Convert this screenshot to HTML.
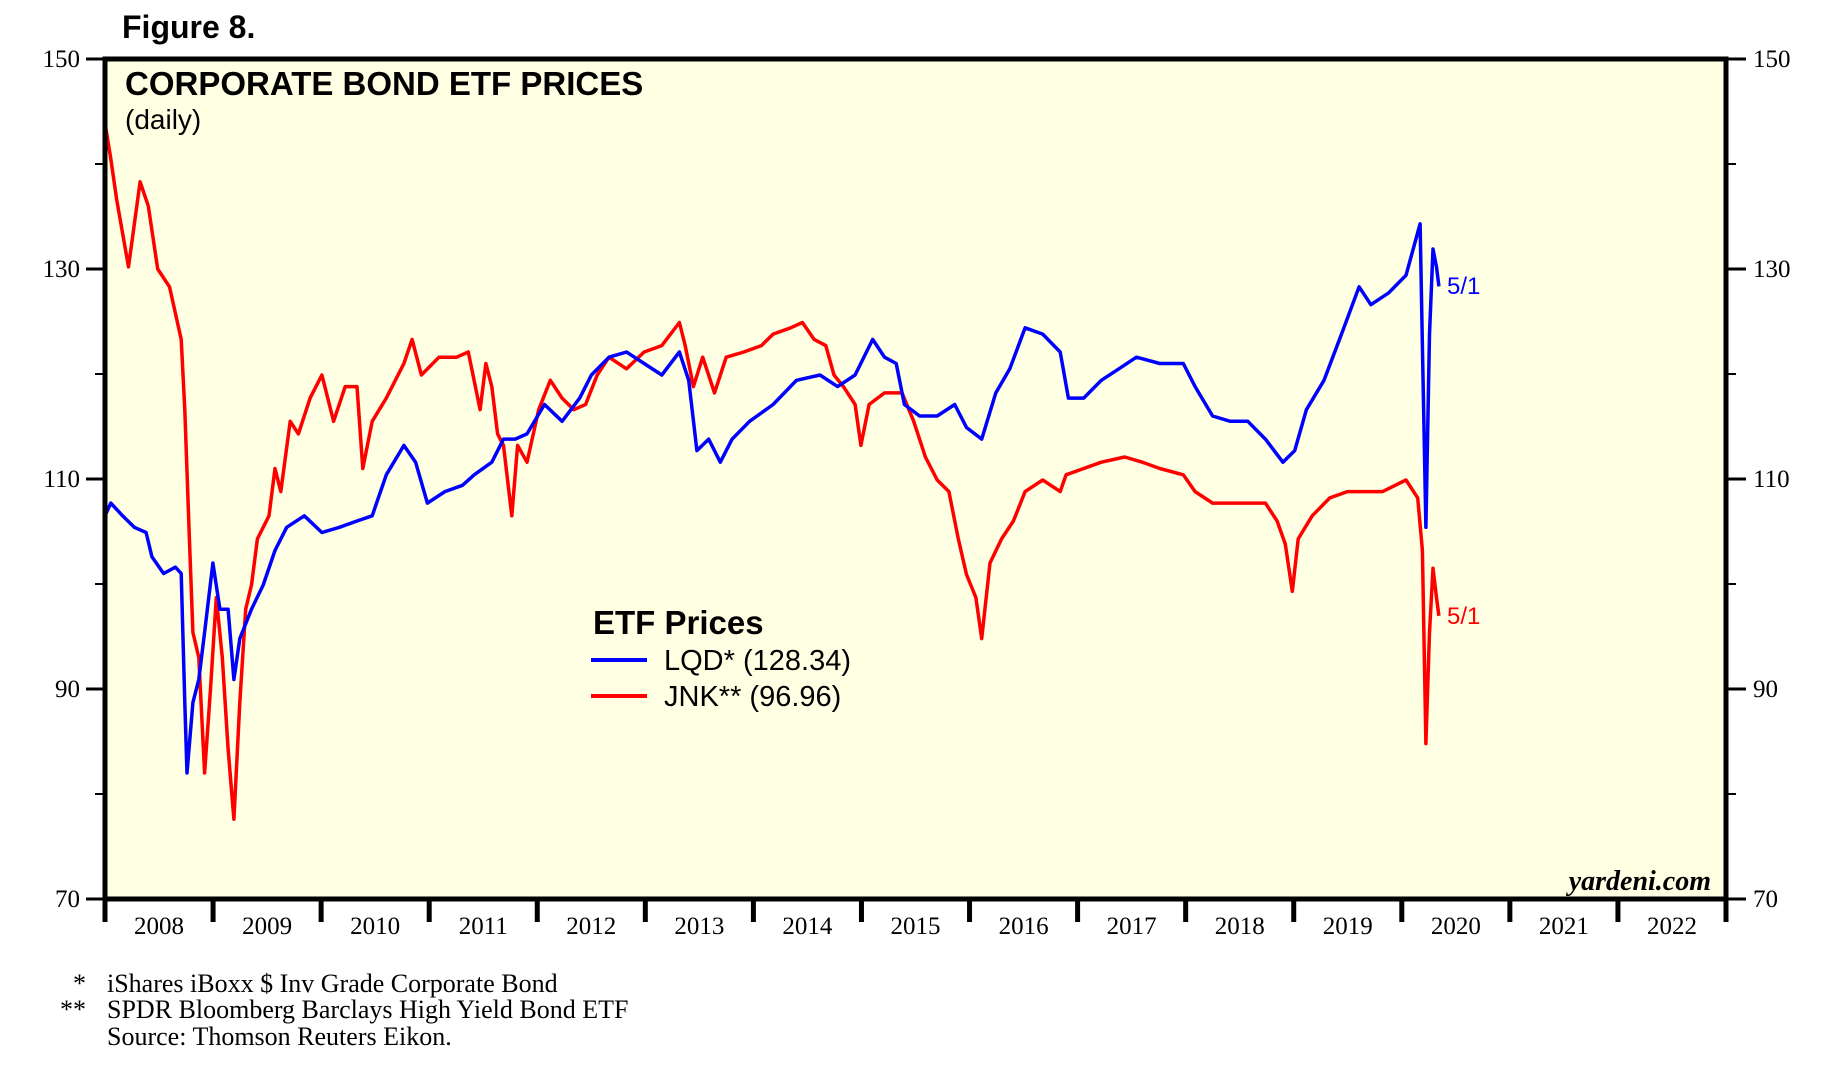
<!DOCTYPE html>
<html><head><meta charset="utf-8"><style>
body{margin:0;background:#fff;}
svg{display:block;}
.serif{font-family:"Liberation Serif",serif;}
.sans{font-family:"Liberation Sans",sans-serif;}
</style></head><body>
<svg id="chart" width="1837" height="1087" viewBox="0 0 1837 1087">
<text x="122" y="38" class="sans" font-size="32" font-weight="bold">Figure 8.</text>
<rect x="105" y="59" width="1621" height="840" fill="#FFFFE3"/>
<text x="125" y="95" class="sans" font-size="33" font-weight="bold">CORPORATE BOND ETF PRICES</text>
<text x="125" y="129" class="sans" font-size="28">(daily)</text>
<g id="axes"></g>
<g id="series"></g>
<rect x="105" y="59" width="1621" height="840" fill="none" stroke="#000" stroke-width="5"/>
<text x="1711" y="890" class="serif" font-size="28" font-weight="bold" font-style="italic" text-anchor="end">yardeni.com</text>
<g>
<text x="593" y="634" class="sans" font-size="33" font-weight="bold">ETF Prices</text>
<line x1="591" y1="660" x2="647" y2="660" stroke="#0000ff" stroke-width="4"/>
<text x="664" y="670" class="sans" font-size="29">LQD* (128.34)</text>
<line x1="591" y1="696" x2="647" y2="696" stroke="#ff0000" stroke-width="4"/>
<text x="664" y="706" class="sans" font-size="29">JNK** (96.96)</text>
</g>
<text x="1447" y="294" class="sans" font-size="24" fill="#0000ff">5/1</text>
<text x="1447" y="624" class="sans" font-size="24" fill="#ff0000">5/1</text>
<g class="serif" font-size="26">
<text x="86" y="992" text-anchor="end">*</text>
<text x="107" y="992">iShares iBoxx $ Inv Grade Corporate Bond</text>
<text x="86" y="1018" text-anchor="end">**</text>
<text x="107" y="1018">SPDR Bloomberg Barclays High Yield Bond ETF</text>
<text x="107" y="1045">Source: Thomson Reuters Eikon.</text>
</g>
</svg>
<script>
const yTicks = [70, 90, 110, 130, 150];
const yMinorTicks = [80, 100, 120, 140];
const years = [2008,2009,2010,2011,2012,2013,2014,2015,2016,2017,2018,2019,2020,2021,2022];
const jnkDates = [2008.00,2008.054,2008.108,2008.217,2008.325,2008.401,2008.488,2008.597,2008.705,2008.738,2008.781,2008.813,2008.868,2008.922,2008.976,2009.030,2009.085,2009.139,2009.193,2009.247,2009.302,2009.356,2009.410,2009.518,2009.573,2009.627,2009.714,2009.790,2009.898,2010.007,2010.115,2010.223,2010.332,2010.386,2010.473,2010.603,2010.766,2010.842,2010.928,2011.091,2011.254,2011.362,2011.471,2011.525,2011.579,2011.633,2011.688,2011.764,2011.818,2011.905,2012.013,2012.121,2012.230,2012.338,2012.447,2012.555,2012.664,2012.826,2012.989,2013.152,2013.315,2013.369,2013.445,2013.531,2013.640,2013.748,2013.911,2014.074,2014.182,2014.345,2014.453,2014.562,2014.670,2014.746,2014.833,2014.941,2014.995,2015.071,2015.213,2015.375,2015.483,2015.592,2015.701,2015.809,2015.896,2015.972,2016.059,2016.113,2016.189,2016.297,2016.406,2016.514,2016.677,2016.839,2016.894,2017.056,2017.219,2017.436,2017.599,2017.761,2017.978,2018.087,2018.249,2018.412,2018.575,2018.738,2018.846,2018.922,2018.987,2019.041,2019.171,2019.334,2019.497,2019.659,2019.822,2020.039,2020.147,2020.191,2020.223,2020.256,2020.289,2020.321,2020.343];
const jnkValues = [143.9,140.5,136.6,130.2,138.3,136.0,130.0,128.3,123.3,116.6,104.3,95.4,93.0,82.0,90.0,98.7,93.0,84.3,77.6,88.7,97.6,99.9,104.3,106.5,111.0,108.8,115.5,114.3,117.7,119.9,115.5,118.8,118.8,111.0,115.5,117.7,121.0,123.3,119.9,121.6,121.6,122.1,116.6,121.0,118.8,114.3,113.2,106.5,113.2,111.6,116.6,119.4,117.7,116.6,117.1,119.9,121.6,120.5,122.1,122.7,124.9,122.7,118.8,121.6,118.2,121.6,122.1,122.7,123.8,124.4,124.9,123.3,122.7,119.9,118.8,117.1,113.2,117.1,118.2,118.2,115.5,112.1,109.9,108.8,104.3,100.9,98.7,94.8,102.0,104.3,106.0,108.8,109.9,108.8,110.4,111.0,111.6,112.1,111.6,111.0,110.4,108.8,107.7,107.7,107.7,107.7,106.0,103.8,99.3,104.3,106.5,108.2,108.8,108.8,108.8,109.9,108.2,103.2,84.8,95.4,101.5,98.7,96.96];
const lqdDates = [2008.00,2008.054,2008.163,2008.271,2008.380,2008.434,2008.542,2008.651,2008.705,2008.738,2008.759,2008.813,2008.868,2008.922,2008.998,2009.063,2009.139,2009.193,2009.247,2009.356,2009.464,2009.573,2009.681,2009.844,2010.007,2010.169,2010.332,2010.473,2010.603,2010.766,2010.874,2010.983,2011.145,2011.308,2011.416,2011.579,2011.688,2011.796,2011.905,2012.067,2012.230,2012.393,2012.501,2012.664,2012.826,2012.989,2013.152,2013.315,2013.401,2013.477,2013.586,2013.694,2013.803,2013.965,2014.182,2014.399,2014.616,2014.779,2014.941,2015.104,2015.213,2015.321,2015.397,2015.538,2015.701,2015.863,2015.972,2016.113,2016.243,2016.373,2016.514,2016.677,2016.839,2016.915,2017.056,2017.219,2017.382,2017.544,2017.761,2017.978,2018.087,2018.249,2018.412,2018.575,2018.738,2018.900,2019.009,2019.117,2019.280,2019.442,2019.605,2019.714,2019.876,2020.039,2020.169,2020.191,2020.223,2020.256,2020.289,2020.321,2020.343];
const lqdValues = [106.5,107.7,106.5,105.4,104.9,102.6,101.0,101.6,101.0,88.7,82.0,88.7,90.9,95.4,102.0,97.6,97.6,90.9,94.8,97.6,99.9,103.2,105.4,106.5,104.9,105.4,106.0,106.5,110.4,113.2,111.6,107.7,108.8,109.4,110.4,111.6,113.8,113.8,114.3,117.1,115.5,117.7,119.9,121.6,122.1,121.0,119.9,122.1,119.4,112.7,113.8,111.6,113.8,115.5,117.1,119.4,119.9,118.8,119.9,123.3,121.6,121.0,117.1,116.0,116.0,117.1,114.9,113.8,118.2,120.5,124.4,123.8,122.1,117.7,117.7,119.4,120.5,121.6,121.0,121.0,118.8,116.0,115.5,115.5,113.8,111.6,112.7,116.6,119.4,123.8,128.3,126.6,127.7,129.4,134.3,122.7,105.4,123.8,131.9,130.2,128.34];

const NS='http://www.w3.org/2000/svg';
const X0=105, X1=1726, Y0=899, Y1=59, T0=2008, T1=2023, V0=70, V1=150;
function xScale(t){return X0+(t-T0)/(T1-T0)*(X1-X0);}
function yScale(v){return Y0-(v-V0)/(V1-V0)*(Y0-Y1);}
function mk(tag,attrs){const e=document.createElementNS(NS,tag);for(const k in attrs)e.setAttribute(k,attrs[k]);return e;}
const axes=document.getElementById('axes');
yTicks.forEach(v=>{
  const y=yScale(v);
  const l=mk('line',{x1:86,y1:y,x2:X0,y2:y,stroke:'#000','stroke-width':3});
  
  
  axes.appendChild(l);
  const r=mk('line',{x1:X1,y1:y,x2:1746,y2:y,stroke:'#000','stroke-width':3});
  
  
  axes.appendChild(r);
  const tl=mk('text',{x:80,y:y+8,'text-anchor':'end','font-size':25,'font-family':'Liberation Serif, serif'});
  tl.textContent=v;
  
  
  axes.appendChild(tl);
  const tr=mk('text',{x:1753,y:y+8,'font-size':25,'font-family':'Liberation Serif, serif'});
  tr.textContent=v;
  
  
  axes.appendChild(tr);
});
yMinorTicks.forEach(v=>{
  const y=yScale(v);
  const l=mk('line',{x1:95,y1:y,x2:X0,y2:y,stroke:'#000','stroke-width':2});
  
  
  axes.appendChild(l);
  const r=mk('line',{x1:X1,y1:y,x2:1736,y2:y,stroke:'#000','stroke-width':2});
  
  
  axes.appendChild(r);
});
years.concat([2023]).forEach(yr=>{
  const x=xScale(yr);
  const t=mk('line',{x1:x,y1:Y0,x2:x,y2:922,stroke:'#000','stroke-width':5});
  
  
  axes.appendChild(t);
});
years.forEach(yr=>{
  const tx=mk('text',{x:xScale(yr+0.5),y:934,'text-anchor':'middle','font-size':25,'font-family':'Liberation Serif, serif'});
  tx.textContent=yr;
  
  
  axes.appendChild(tx);
});
const series=document.getElementById('series');
function line(dates,vals,color,name){
  const pts=dates.map((d,i)=>xScale(d).toFixed(1)+','+yScale(vals[i]).toFixed(1)).join(' ');
  const p=mk('polyline',{points:pts,fill:'none',stroke:color,'stroke-width':3.5,'stroke-linejoin':'round'});
  
  
  series.appendChild(p);
}
line(jnkDates,jnkValues,'#ff0000','jnk-line');
line(lqdDates,lqdValues,'#0000ff','lqd-line');
</script>
</body></html>
